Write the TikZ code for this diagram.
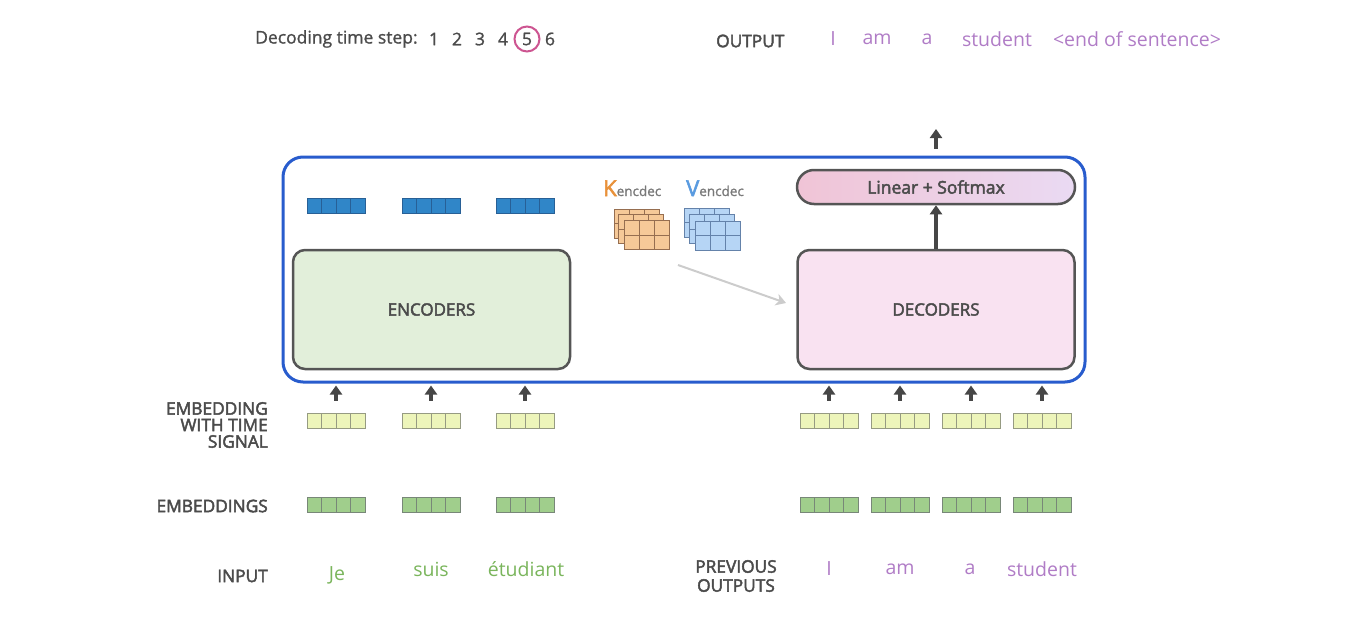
\documentclass[tikz,border=0pt]{standalone}
\usepackage{fontspec}
\setmainfont{Open Sans}
\newfontfamily\semib[FakeBold=2.6]{Open Sans}
\newfontfamily\medw[FakeBold=1.2]{Open Sans}
\usetikzlibrary{arrows.meta,calc}
\definecolor{bluebox}{RGB}{40,92,205}
\definecolor{bluevecf}{RGB}{48,134,200}
\definecolor{bluevecd}{RGB}{40,96,150}
\definecolor{encf}{RGB}{226,239,218}
\definecolor{decf}{RGB}{249,226,241}
\definecolor{bord}{RGB}{85,85,85}
\definecolor{yelf}{RGB}{237,245,186}
\definecolor{yeld}{RGB}{150,155,130}
\definecolor{grnf}{RGB}{160,206,140}
\definecolor{grnd}{RGB}{120,135,120}
\definecolor{orgf}{RGB}{246,201,152}
\definecolor{orgd}{RGB}{150,110,80}
\definecolor{orgt}{RGB}{232,145,58}
\definecolor{blcf}{RGB}{182,213,245}
\definecolor{blcd}{RGB}{100,130,170}
\definecolor{blct}{RGB}{90,155,224}
\definecolor{purp}{RGB}{176,124,198}
\definecolor{grnt}{RGB}{122,181,92}
\definecolor{lab}{RGB}{75,75,75}
\definecolor{pinkc}{RGB}{205,85,145}
\definecolor{arr}{RGB}{70,70,70}
\tikzset{
  x=1pt,y=-1pt,
  cells4/.style={path picture={
    \foreach \i in {1,2,3}
      \draw[#1,line width=0.9pt] ($(path picture bounding box.south west)!\i/4!(path picture bounding box.south east)$) -- ($(path picture bounding box.north west)!\i/4!(path picture bounding box.north east)$);}},
  vec/.style={draw=#1,line width=0.9pt,minimum width=58pt,minimum height=15pt,inner sep=0pt,cells4=#1},
  bvec/.style={vec=bluevecd,fill=bluevecf},
  yvec/.style={vec=yeld,fill=yelf},
  gvec/.style={vec=grnd,fill=grnf},
  grid/.style={draw=#1,line width=0.8pt,minimum width=45pt,minimum height=29pt,inner sep=0pt,
    path picture={
      \draw[#1,line width=0.8pt] ($(path picture bounding box.south west)!1/3!(path picture bounding box.south east)$) -- ($(path picture bounding box.north west)!1/3!(path picture bounding box.north east)$);
      \draw[#1,line width=0.8pt] ($(path picture bounding box.south west)!2/3!(path picture bounding box.south east)$) -- ($(path picture bounding box.north west)!2/3!(path picture bounding box.north east)$);
      \draw[#1,line width=0.8pt] (path picture bounding box.west) -- (path picture bounding box.east);}},
  kgrid/.style={grid=orgd,fill=orgf},
  vgrid/.style={grid=blcd,fill=blcf},
  bigbox/.style={draw=bord,line width=2.5pt,rounded corners=12pt,minimum width=277pt,minimum height=119pt,font=\semib\fontsize{17}{18}\selectfont,text=lab},
  uparr/.style={draw=arr,line width=3.4pt,-{Triangle[width=12pt,length=9pt]}},
  lbl/.style={font=\semib\fontsize{17.3}{18}\selectfont,text=lab,inner sep=0pt},
  pword/.style={font=\fontsize{19.5}{20}\selectfont,text=purp,inner sep=0pt},
  gword/.style={font=\fontsize{19.5}{20}\selectfont,text=grnt,inner sep=0pt},
  num/.style={font=\medw\fontsize{17.5}{18}\selectfont,text=lab,inner sep=0pt}
}
\begin{document}
\begin{tikzpicture}
\useasboundingbox (0,0) rectangle (1352,616);
% top line
\node[num,anchor=west] (dts) at (255,39) {Decoding time step:};
\node[num] (n1) at (434,39) {1};
\node[num] (n2) at (457,39) {2};
\node[num] (n3) at (480,39) {3};
\node[num] (n4) at (503,39) {4};
\node[num] (n5) at (527,39) {5};
\node[num] (n6) at (550,39) {6};
\draw[pinkc,line width=2pt] (n5) circle (12.5pt);
\node[lbl,anchor=west] (outl) at (716,41) {OUTPUT};
\node[pword] (o1) at (833,39) {I};
\node[pword] (o2) at (877,39) {am};
\node[pword] (o3) at (927,39) {a};
\node[pword] (o4) at (997,39) {student};
\node[pword] (o5) at (1137,39) {<end of sentence>};
% big blue box
\node[draw=bluebox,line width=3pt,rounded corners=20pt,minimum width=802pt,minimum height=225pt,inner sep=0pt] (big) at (684,269.5) {};
% encoder outputs
\node[bvec] (b1) at (336,205.5) {};
\node[bvec] (b2) at (431,205.5) {};
\node[bvec] (b3) at (525,205.5) {};
% boxes
\node[bigbox,fill=encf] (enc) at (431.5,309.5) {ENCODERS};
\node[bigbox,fill=decf] (dec) at (936,309.5) {DECODERS};
\node[draw=bord,line width=2.5pt,rounded corners=17pt,minimum width=278pt,minimum height=34pt,left color={rgb,255:red,240;green,196;blue,214},right color={rgb,255:red,234;green,218;blue,243},font=\semib\fontsize{17.5}{18}\selectfont,text=lab] (lin) at (936,187) {Linear + Softmax};
\draw[uparr] (dec.north) -- (lin.south);
\coordinate (outtop) at (936,129);
\draw[uparr] (lin.north) ++(0,-20) -- (outtop);
% K V
\node[inner sep=0pt,anchor=base west] (klab) at (603,196) {{\fontsize{22}{22}\selectfont\semib\color{orgt}K}{\fontsize{13.5}{14}\selectfont\medw\color{lab!75}encdec}};
\node[inner sep=0pt,anchor=base west] (vlab) at (686,196) {{\fontsize{22}{22}\selectfont\semib\color{blct}V}{\fontsize{13.5}{14}\selectfont\medw\color{lab!75}encdec}};
\node[kgrid] (k1) at (636.5,223.5) {};
\node[kgrid] (k2) at (641,229) {};
\node[kgrid] (k3) at (646.5,235) {};
\node[vgrid] (v1) at (706.5,222.5) {};
\node[vgrid] (v2) at (711.5,229) {};
\node[vgrid] (v3) at (717.5,235.5) {};
\coordinate (gs) at (678,265);
\coordinate (ge) at (786,303);
\draw[draw=black!20,line width=2pt,-{Stealth[width=12pt,length=10pt,inset=3pt]}] (gs) -- (ge);
% time-signal embeddings
\node[yvec] (t1) at (336,420.5) {};
\node[yvec] (t2) at (431,420.5) {};
\node[yvec] (t3) at (525,420.5) {};
\node[yvec] (t4) at (829,420.5) {};
\node[yvec] (t5) at (900,420.5) {};
\node[yvec] (t6) at (971,420.5) {};
\node[yvec] (t7) at (1042,420.5) {};
\foreach \t in {t1,t2,t3,t4,t5,t6,t7}
  \draw[uparr,shorten <=12pt,shorten >=2pt] (\t.north) -- (\t.north |- big.south);
% embeddings
\node[gvec] (g1) at (336,504.5) {};
\node[gvec] (g2) at (431,504.5) {};
\node[gvec] (g3) at (525,504.5) {};
\node[gvec] (g4) at (829,504.5) {};
\node[gvec] (g5) at (900,504.5) {};
\node[gvec] (g6) at (971,504.5) {};
\node[gvec] (g7) at (1042,504.5) {};
% labels
\node[lbl,anchor=east,align=right] (lt) at (268,425) {EMBEDDING\\[-1.5pt]WITH TIME\\[-1.5pt]SIGNAL};
\node[lbl,anchor=east] (le) at (268,506) {EMBEDDINGS};
\node[lbl,anchor=east] (li) at (268,576) {INPUT};
\node[lbl,align=center] (lp) at (736,576) {PREVIOUS\\[1pt]OUTPUTS};
% words
\node[gword] (w1) at (337,575) {Je};
\node[gword] (w2) at (431,569) {suis};
\node[gword] (w3) at (526,569) {étudiant};
\node[pword] (p1) at (829,569) {I};
\node[pword] (p2) at (900,569) {am};
\node[pword] (p3) at (970,569) {a};
\node[pword] (p4) at (1042,569) {student};
\end{tikzpicture}
\end{document}
